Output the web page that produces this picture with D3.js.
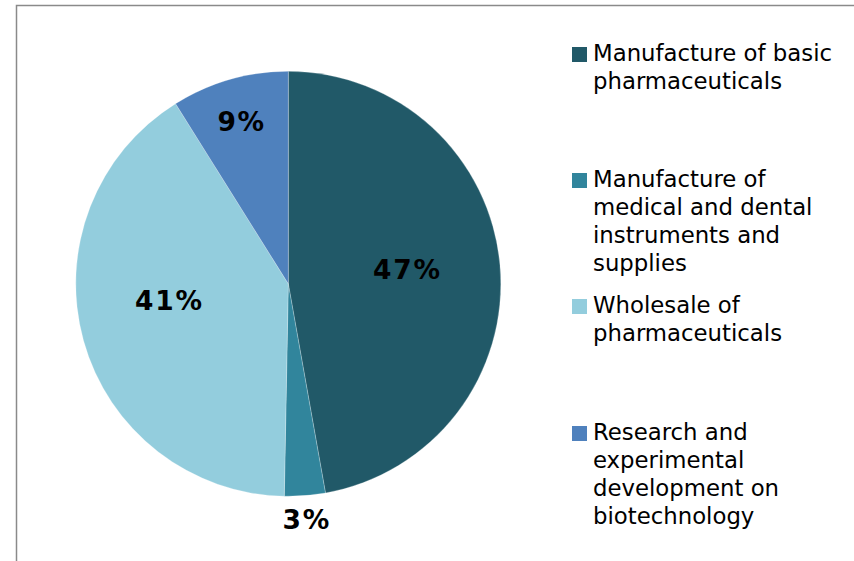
<!DOCTYPE html>
<html>
<head>
<meta charset="utf-8">
<script src="https://cdn.jsdelivr.net/npm/d3@7"></script>
<style>
  html, body { margin: 0; padding: 0; background: #fff; }
  svg { display: block; }
</style>
</head>
<body>
<svg id="chart" width="854" height="561"></svg>
<script>
// ---- data ----
const categories = [
  "Manufacture of basic pharmaceuticals",
  "Manufacture of medical and dental instruments and supplies",
  "Wholesale of pharmaceuticals",
  "Research and experimental development on biotechnology"
];
const legendLines = [
  ["Manufacture of basic", "pharmaceuticals"],
  ["Manufacture of", "medical and dental", "instruments and", "supplies"],
  ["Wholesale of", "pharmaceuticals"],
  ["Research and", "experimental", "development on", "biotechnology"]
];
const values = [47.2, 3.1, 40.8, 8.9];
const valueLabels = ["47%", "3%", "41%", "9%"];
const colors = ["#215968", "#31859C", "#93CDDD", "#4F81BD"];

// ---- layout ----
const svg = d3.select("#chart");
const W = 854, H = 561;

// outer frame
svg.append("rect")
  .attr("x", 16.5).attr("y", 5.5)
  .attr("width", W + 10).attr("height", H + 10)
  .attr("fill", "none")
  .attr("stroke", "#8a8a8a")
  .attr("stroke-width", 1.5);

const cx = 288.3, cy = 283.8, R = 212.5;
const g = svg.append("g").attr("transform", `translate(${cx},${cy})`);

const pie = d3.pie().sort(null).value(d => d);
const arcs = pie(values);
const arc = d3.arc().innerRadius(0).outerRadius(R);

g.selectAll("path.slice")
  .data(arcs)
  .join("path")
  .attr("class", "slice")
  .attr("d", arc)
  .attr("fill", (d, i) => colors[i])
  .attr("stroke", "#ffffff")
  .attr("stroke-width", 0.4)
  .attr("stroke-opacity", 0.6);

// data labels (best-fit style: inside for large slices, outside for small)
function labelPos(d, i) {
  const frac = (d.endAngle - d.startAngle) / (2 * Math.PI);
  let r, a = (d.startAngle + d.endAngle) / 2;
  if (frac < 0.05) r = R + 24;
  else if (frac < 0.15) r = R * 0.795;
  else r = R * 0.565;
  if (frac > 0.3 && a > Math.PI) a += 0.13; // nudge as Excel's best fit
  if (frac > 0.3 && a < Math.PI) a -= 0.03;
  return [r * Math.sin(a), -r * Math.cos(a)];
}

g.selectAll("text.vlabel")
  .data(arcs)
  .join("text")
  .attr("class", "vlabel")
  .attr("transform", (d, i) => {
    const p = labelPos(d, i);
    return `translate(${p[0]},${p[1]})`;
  })
  .attr("text-anchor", "middle")
  .attr("dy", "0.36em")
  .style("font-family", "'DejaVu Sans', Verdana, sans-serif")
  .style("font-weight", "bold")
  .style("font-size", "26.5px")
  .style("letter-spacing", "1.8px")
  .attr("fill", "#000")
  .text((d, i) => valueLabels[i]);

// legend
const legendX = 572, textX = 593;
const baselines = [61, 187, 313, 440];
const lineH = 28;

const lg = svg.append("g");
categories.forEach((c, i) => {
  const item = lg.append("g");
  item.append("rect")
    .attr("x", legendX).attr("y", baselines[i] - 14)
    .attr("width", 15).attr("height", 15)
    .attr("fill", colors[i]);
  const t = item.append("text")
    .attr("x", textX).attr("y", baselines[i])
    .style("font-family", "'DejaVu Sans', Verdana, sans-serif")
    .style("font-size", "22.8px")
    .attr("fill", "#000");
  legendLines[i].forEach((ln, j) => {
    t.append("tspan")
      .attr("x", textX)
      .attr("y", baselines[i] + j * lineH)
      .text(ln);
  });
});
</script>
</body>
</html>
